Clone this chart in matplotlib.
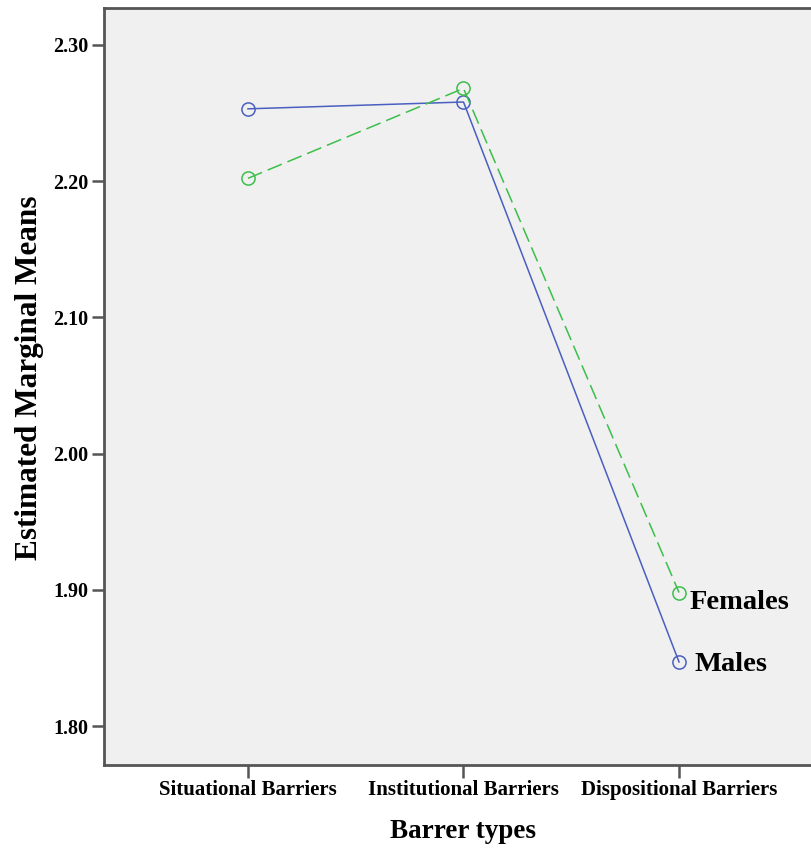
import matplotlib.pyplot as plt

# data
barrier_types = ['Situational Barriers', 'Institutional Barriers', 'Dispositional Barriers']
males = [2.253, 2.258, 1.847]
females = [2.202, 2.268, 1.898]
y_ticks = [1.80, 1.90, 2.00, 2.10, 2.20, 2.30]

plt.rcParams['font.family'] = ['Liberation Serif', 'DejaVu Serif']
plt.rcParams['font.weight'] = 'bold'
plt.rcParams['axes.labelweight'] = 'bold'

fig = plt.figure(figsize=(8.12, 8.5), dpi=100)
# plot area runs a little past the right edge, as in the original
ax = fig.add_axes([104 / 812, 85 / 850, 719 / 812, 757 / 850])
ax.set_facecolor('#f0f0f0')

x = range(len(barrier_types))
ax.plot(x, males, color='#4a5fbf', linewidth=1.1, marker='o', markersize=9.5,
        markerfacecolor='none', markeredgewidth=1.1)
ax.plot(x, females, color='#3cbf4a', linewidth=1.1, linestyle=(0, (10, 4)), marker='o',
        markersize=9.5, markerfacecolor='none', markeredgewidth=1.1)

# line labels at the end of each series
ax.text(2.05, females[2] - 0.007, 'Females', fontsize=20.5, va='center', ha='left')
ax.text(2.07, males[2] - 0.002, 'Males', fontsize=20.5, va='center', ha='left')

ax.set_xlim(-0.668, 2.668)
ax.set_ylim(1.7714, 2.327)
ax.set_xticks(list(x))
ax.set_xticklabels(barrier_types, fontsize=15)
ax.set_yticks(y_ticks)
ax.set_yticklabels([f'{v:.2f}' for v in y_ticks], fontsize=14.5)

for s in ax.spines.values():
    s.set_color('#555555')
    s.set_linewidth(2)
ax.tick_params(axis='both', length=9, width=1.8, color='#555555', pad=2)

ax.set_xlabel('Barrer types', fontsize=19.5)
ax.set_ylabel('Estimated Marginal Means', fontsize=22.5)
ax.xaxis.set_label_coords(0.5, -0.071)
ax.yaxis.set_label_coords(-0.083, 0.512)

fig.savefig('out.png', dpi=100)
